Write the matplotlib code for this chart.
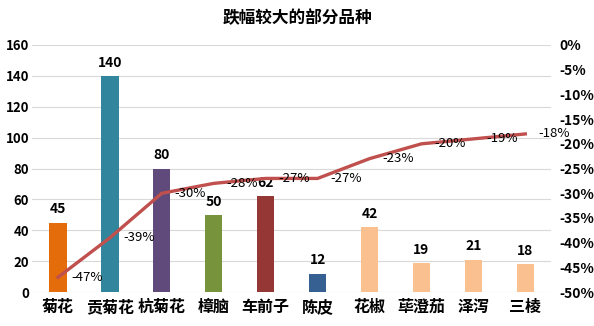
import numpy as np
import matplotlib
matplotlib.use("Agg")
import matplotlib.pyplot as plt
from matplotlib.ticker import FuncFormatter

plt.rcParams['font.family'] = ['Noto Sans CJK SC', 'DejaVu Sans']

# ------------------------------------------------------------------
# Data
# ------------------------------------------------------------------
categories = ["菊花", "贡菊花", "杭菊花", "樟脑", "车前子", "陈皮", "花椒", "荜澄茄", "泽泻", "三棱"]
prices = [45, 140, 80, 50, 62, 12, 42, 19, 21, 18]
change_pct = [-47, -39, -30, -28, -27, -27, -23, -20, -19, -18]
bar_colors = ["#E46C0A", "#31859C", "#604A7B", "#77933C", "#953735", "#376092",
              "#FAC090", "#FAC090", "#FAC090", "#FAC090"]
left_ticks = [0, 20, 40, 60, 80, 100, 120, 140, 160]
right_ticks = [0, -5, -10, -15, -20, -25, -30, -35, -40, -45, -50]

# ------------------------------------------------------------------
# Figure
# ------------------------------------------------------------------
fig = plt.figure(figsize=(5.94, 3.26), dpi=100)
ax = fig.add_axes([0.054, 0.104, 0.874, 0.758])
x = np.arange(len(categories))

ax.bar(x, prices, width=0.33, color=bar_colors, zorder=2)
for xi, v in zip(x, prices):
    ax.text(xi, v + 4, str(v), ha="center", va="bottom", fontsize=10, fontweight="bold")

ax.set_xlim(-0.5, len(categories) - 0.5)
ax.set_ylim(0, 160)
ax.set_yticks(left_ticks)
ax.yaxis.grid(True, color="#D9D9D9", lw=0.8, zorder=0)
ax.set_xticks(x)
ax.set_xticklabels(categories, fontsize=11.5, fontweight="bold")
ax.tick_params(axis="x", length=0, pad=5)
ax.tick_params(axis="y", length=0, pad=2, labelsize=9.5)
for lab in ax.get_yticklabels():
    lab.set_fontweight("bold")
for s in ax.spines.values():
    s.set_visible(False)

# percentage change on the secondary axis
ax2 = ax.twinx()
ax2.plot(x, change_pct, color="#C0504D", lw=2.4, zorder=3)
for xi, v in zip(x, change_pct):
    ax2.text(xi + 0.25, v, f"{v}%", ha="left", va="center", fontsize=9.5)
ax2.set_ylim(-50, 0)
ax2.set_yticks(right_ticks)
ax2.yaxis.set_major_formatter(FuncFormatter(lambda v, p: f"{int(v)}%"))
ax2.tick_params(axis="y", length=0, pad=6, labelsize=10)
for lab in ax2.get_yticklabels():
    lab.set_fontweight("bold")
for s in ax2.spines.values():
    s.set_visible(False)

fig.text(0.5, 0.945, "跌幅较大的部分品种", ha="center", va="center",
         fontsize=12, fontweight="bold")

fig.savefig("out.png", dpi=100)
